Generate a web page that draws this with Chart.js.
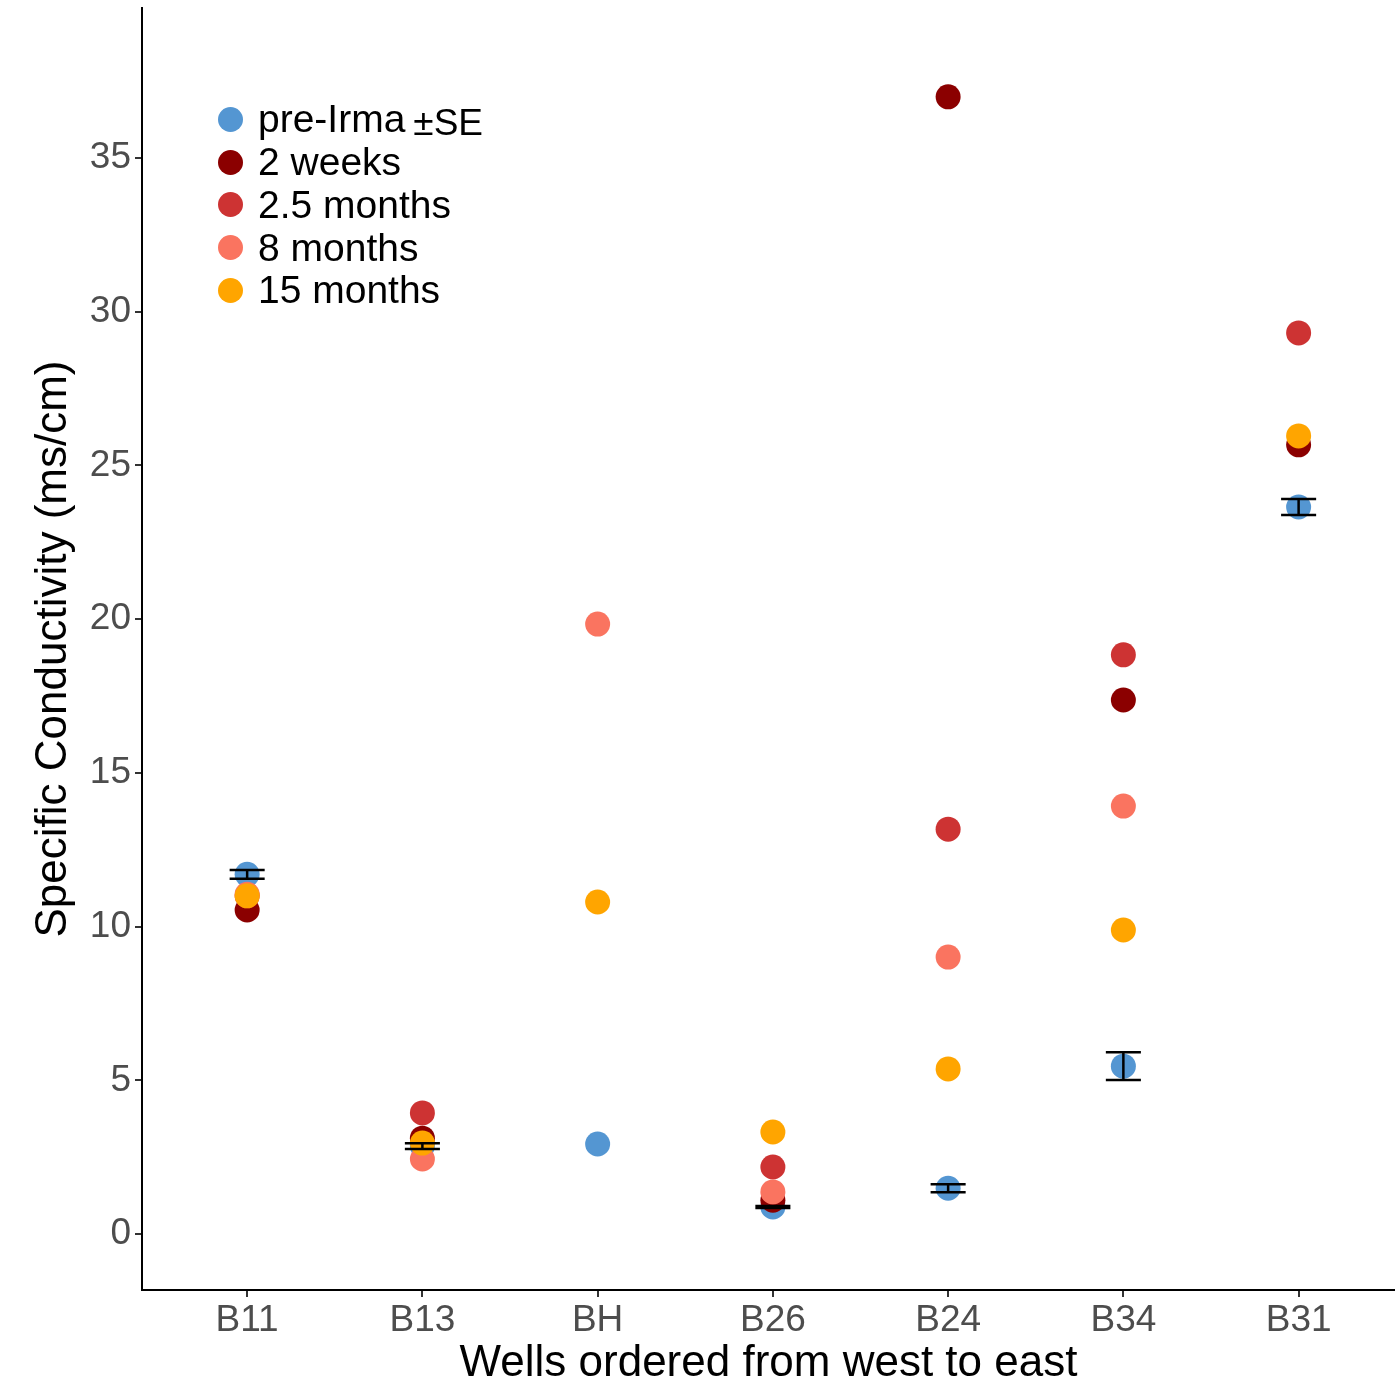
<!DOCTYPE html>
<html>
<head>
<meta charset="utf-8">
<script src="https://cdn.jsdelivr.net/npm/chart.js@4.4.1/dist/chart.umd.min.js"></script>
<style>
  html, body { margin: 0; padding: 0; background: #fff; overflow: hidden; }
  #wrap { position: relative; width: 1395px; height: 1384px; }
  #legend {
    position: absolute; left: 218px; top: 98px;
    font-family: "Liberation Sans", Arial, sans-serif; font-size: 39px; color: #000;
  }
  .row { height: 42.75px; display: flex; align-items: center; white-space: nowrap; }
  .dot { width: 25px; height: 25px; border-radius: 50%; margin-right: 15px; flex: none; }
  .se { position: relative; top: 4px; margin-left: 8px; font-size: 37px; }
</style>
</head>
<body>
<div id="wrap">
  <canvas id="chart" width="1395" height="1384"></canvas>
  <div id="legend"></div>
</div>
<script>
// Wells (west to east)
const wells = ['B11', 'B13', 'BH', 'B26', 'B24', 'B34', 'B31'];

// Specific conductivity (ms/cm) per sampling period
const preIrma   = [11.70, 2.86, 2.93, 0.88, 1.49, 5.46, 23.65];
const preIrmaSE = [0.14, 0.09, null, 0.03, 0.13, 0.45, 0.26];
const weeks2    = [10.54, 3.12, null, 1.10, 36.99, 17.37, 25.67];
const months2_5 = [11.00, 3.94, null, 2.18, 13.17, 18.84, 29.31];
const months8   = [11.05, 2.44, 19.84, 1.37, 9.01, 13.92, null];
const months15  = [11.00, 2.96, 10.80, 3.32, 5.37, 9.89, 25.96];

const yTicks = [0, 5, 10, 15, 20, 25, 30, 35];

const seriesNames = ['pre-Irma', '2 weeks', '2.5 months', '8 months', '15 months'];
const seriesColors = ['#5496D2', '#8B0000', '#CD3333', '#FA7460', '#FFA500'];
const seriesValues = [preIrma, weeks2, months2_5, months8, months15];

function toPoints(values) {
    return values
        .map((v, i) => (v === null ? null : { x: i + 1, y: v }))
        .filter(p => p !== null);
}

// Error bars for the pre-Irma means
const errorBars = {
    id: 'errorBars',
    afterDatasetsDraw(chart) {
        const ctx = chart.ctx;
        const xs = chart.scales.x;
        const ys = chart.scales.y;
        ctx.save();
        ctx.strokeStyle = '#000';
        ctx.lineWidth = 2.5;
        preIrma.forEach((m, i) => {
            const se = preIrmaSE[i];
            if (se === null) return;
            const x = xs.getPixelForValue(i + 1);
            const xl = xs.getPixelForValue(i + 1 - 0.1);
            const xr = xs.getPixelForValue(i + 1 + 0.1);
            const yTop = ys.getPixelForValue(m + se);
            const yBot = ys.getPixelForValue(m - se);
            ctx.beginPath();
            ctx.moveTo(x, yTop); ctx.lineTo(x, yBot);
            ctx.moveTo(xl, yTop); ctx.lineTo(xr, yTop);
            ctx.moveTo(xl, yBot); ctx.lineTo(xr, yBot);
            ctx.stroke();
        });
        ctx.restore();
    }
};

// later series are drawn on top (lower order = drawn last)
const datasets = seriesNames.map((name, k) => ({
    label: name,
    data: toPoints(seriesValues[k]),
    backgroundColor: seriesColors[k],
    borderWidth: 0,
    pointRadius: 12.5,
    pointHoverRadius: 12.5,
    order: seriesNames.length - k
}));

const ctx = document.getElementById('chart').getContext('2d');
new Chart(ctx, {
    type: 'scatter',
    data: { datasets: datasets },
    plugins: [errorBars],
    options: {
        responsive: false,
        animation: false,
        devicePixelRatio: 1,
        layout: { autoPadding: false, padding: { top: 8, right: 0, left: 0, bottom: 0 } },
        plugins: { legend: { display: false }, tooltip: { enabled: false } },
        scales: {
            x: {
                type: 'linear',
                min: 0.4,
                max: 7.55,
                afterBuildTicks: scale => { scale.ticks = wells.map((w, i) => ({ value: i + 1 })); },
                afterFit: scale => {
                    scale.height = 94;
                    scale.paddingLeft = 0;
                    scale.paddingRight = 0;
                },
                ticks: {
                    callback: v => wells[v - 1],
                    color: '#4D4D4D',
                    font: { family: 'Liberation Sans', size: 37 },
                    padding: 2,
                    maxRotation: 0,
                    autoSkip: false
                },
                grid: { drawOnChartArea: false, drawTicks: true, tickLength: 7, color: '#333', lineWidth: 2 },
                border: { display: true, color: '#000', width: 2 },
                title: {
                    display: true,
                    text: 'Wells ordered from west to east',
                    color: '#000',
                    font: { family: 'Liberation Sans', size: 44, lineHeight: 0.9 },
                    padding: { top: 0, bottom: 0 }
                }
            },
            y: {
                type: 'linear',
                min: -1.82,
                max: 39.88,
                afterBuildTicks: scale => { scale.ticks = yTicks.map(v => ({ value: v })); },
                afterFit: scale => {
                    scale.width = 142;
                    scale.paddingTop = 0;
                    scale.paddingBottom = 0;
                },
                ticks: {
                    color: '#4D4D4D',
                    font: { family: 'Liberation Sans', size: 37 },
                    padding: 4
                },
                grid: { drawOnChartArea: false, drawTicks: true, tickLength: 7, color: '#333', lineWidth: 2 },
                border: { display: true, color: '#000', width: 2 },
                title: {
                    display: true,
                    text: 'Specific Conductivity (ms/cm)',
                    color: '#000',
                    font: { family: 'Liberation Sans', size: 44, lineHeight: 1.1 },
                    padding: { top: 30, bottom: 0 }
                }
            }
        }
    }
});

// Legend (HTML, top-left inside plot)
const legendEl = document.getElementById('legend');
seriesNames.forEach((name, k) => {
    const row = document.createElement('div');
    row.className = 'row';
    const dot = document.createElement('span');
    dot.className = 'dot';
    dot.style.background = seriesColors[k];
    const label = document.createElement('span');
    label.textContent = name;
    row.appendChild(dot);
    row.appendChild(label);
    if (k === 0) {
        const se = document.createElement('span');
        se.className = 'se';
        se.textContent = '±SE';
        row.appendChild(se);
    }
    legendEl.appendChild(row);
});
</script>
</body>
</html>
